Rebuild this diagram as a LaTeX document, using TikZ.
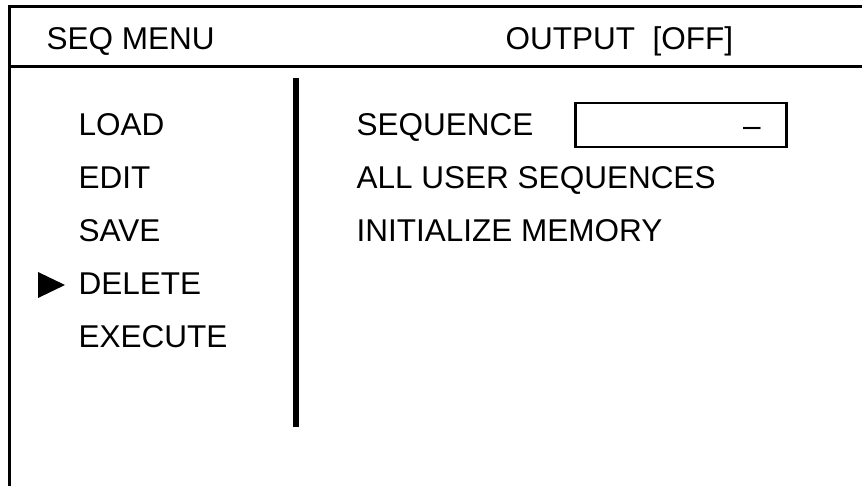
\documentclass[tikz,border=0pt]{standalone}
\usepackage{fontspec}
\setmainfont{Liberation Sans}
\usetikzlibrary{positioning}

\tikzset{
  menutext/.style={anchor=base west, inner sep=0pt, font=\fontsize{31.5}{36}\selectfont},
  frameline/.style={line width=3pt},
}

\begin{document}
\begin{tikzpicture}[x=1pt,y=-1pt]
        \useasboundingbox (0,0) rectangle (862,486);
        % frame
        \draw[frameline] (862,7) -- (9.5,7) -- (9.5,486);
        \draw[frameline] (9.5,67) -- (862,67);
        \draw[line width=6pt] (296,78) -- (296,427);
        % header
        \node[menutext] (title) at (46.5,50) {SEQ MENU};
        \node[menutext] (output) at (505.5,50) {OUTPUT~~[OFF]};
        % left menu
        \node[menutext] (load) at (78.5,136) {LOAD};
        \node[menutext] (edit) at (78.5,189) {EDIT};
        \node[menutext] (save) at (78.5,242) {SAVE};
        \node[menutext] (delete) at (78.5,295) {DELETE};
        \node[menutext] (execute) at (78.5,347) {EXECUTE};
        \fill (38,272) -- (65,285) -- (38,298) -- cycle;
        % right side
        \node[menutext] (seq) at (356.5,136) {SEQUENCE};
        \node[menutext] (allseq) at (356.5,189) {ALL USER SEQUENCES};
        \node[menutext] (initmem) at (356.5,242) {INITIALIZE MEMORY};
        \node[draw, line width=2.5pt, minimum width=211, minimum height=44, anchor=north west] (seqbox) at (574,102) {};
        \node[menutext] (dash) at (743,137) {–};
\end{tikzpicture}
\end{document}
